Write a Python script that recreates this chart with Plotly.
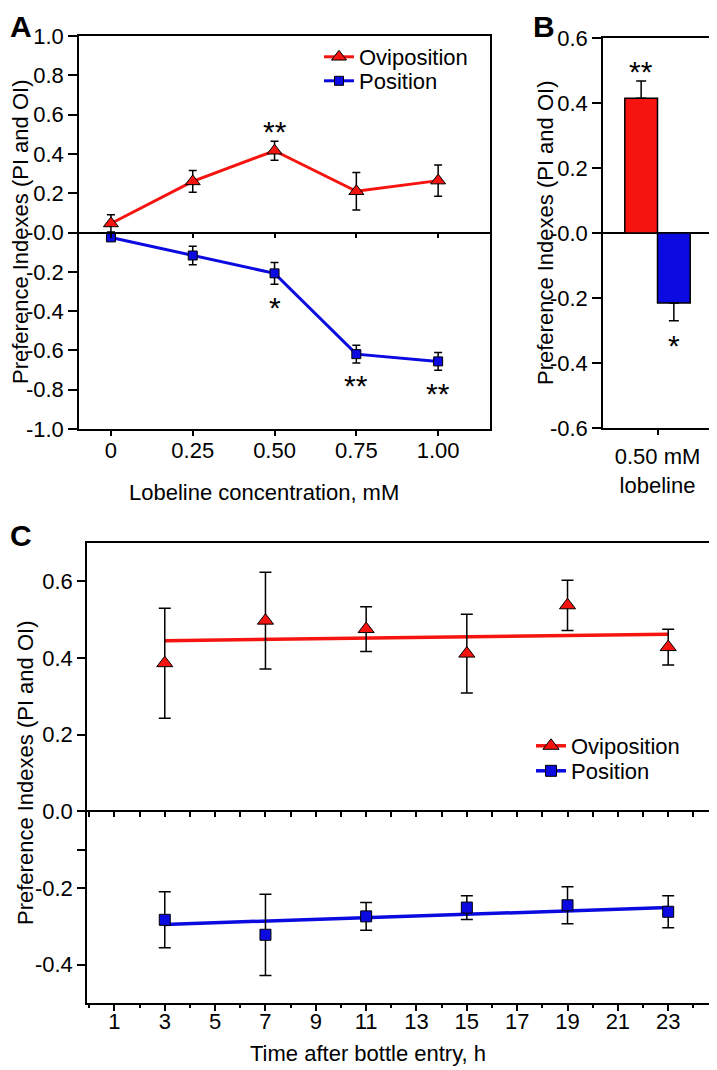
import plotly.graph_objects as go

# ---- data ----
# panel A: dose response
conc = [0, 0.25, 0.50, 0.75, 1.00]
conc_labels = ["0", "0.25", "0.50", "0.75", "1.00"]
ovi_A = [0.046, 0.260, 0.416, 0.210, 0.264]
ovi_A_err = [0.044, 0.055, 0.048, 0.095, 0.080]
pos_A = [-0.025, -0.117, -0.208, -0.619, -0.656]
pos_A_err = [0.012, 0.047, 0.055, 0.045, 0.045]
sig_ovi_A = ["", "", "**", "", ""]
sig_pos_A = ["", "", "*", "**", "**"]
yticks_A = [-1.0, -0.8, -0.6, -0.4, -0.2, 0.0, 0.2, 0.4, 0.6, 0.8, 1.0]
ylabels_A = ["-1.0", "-0.8", "-0.6", "-0.4", "-0.2", "-0.0", "0.2", "0.4", "0.6", "0.8", "1.0"]

# panel B: 0.50 mM lobeline
cat_B = ["0.50 mM<br>lobeline"]
ovi_B = [0.415]
ovi_B_err = [0.053]
pos_B = [-0.215]
pos_B_err = [0.055]
sig_B = ["**", "*"]
yticks_B = [-0.6, -0.4, -0.2, 0.0, 0.2, 0.4, 0.6]
ylabels_B = ["-0.6", "-0.4", "-0.2", "-0.0", "0.2", "0.4", "0.6"]

# panel C: time course
hours = [3, 7, 11, 15, 19, 23]
ovi_C = [0.3865, 0.4975, 0.4755, 0.4115, 0.5375, 0.4285]
ovi_C_err = [0.1435, 0.1265, 0.0585, 0.1025, 0.0655, 0.0465]
pos_C = [-0.283, -0.322, -0.274, -0.251, -0.245, -0.262]
pos_C_err = [0.073, 0.106, 0.036, 0.031, 0.048, 0.042]
fit_x = [3, 23]
ovi_fit = [0.445, 0.462]
pos_fit = [-0.295, -0.251]
xticks_C = [1, 3, 5, 7, 9, 11, 13, 15, 17, 19, 21, 23]
yticks_C = [-0.4, -0.2, -0.1, 0.0, 0.2, 0.4, 0.6]
ylabels_C = ["-0.4", "-0.2", "", "0.0", "0.2", "0.4", "0.6"]

RED = "rgb(245,20,15)"
BLUE = "rgb(10,10,225)"
FONT = "Liberation Sans, Arial, Helvetica, sans-serif"
PAGE = 8  # default body margin of the page
W, H = 717 - PAGE, 1070 - PAGE


def px_x(p):
    return (p - PAGE) / W


def px_y(p):
    return 1 - (p - PAGE) / H


domA_x = [px_x(79), px_x(490)]
domA_y = [px_y(429), px_y(36)]
domB_x = [px_x(603), px_x(712)]
domB_y = [px_y(428), px_y(38)]
domC_x = [px_x(87), px_x(712)]
domC_y = [px_y(1003), px_y(543)]
rangeA_y = [-1, 1]
rangeC_y = [-0.5, 0.7]
zeroA = domA_y[0] + (0 - rangeA_y[0]) / (rangeA_y[1] - rangeA_y[0]) * (domA_y[1] - domA_y[0])
zeroC = domC_y[0] + (0 - rangeC_y[0]) / (rangeC_y[1] - rangeC_y[0]) * (domC_y[1] - domC_y[0])

err_style = dict(type="data", color="black", thickness=1.5)
tri = dict(symbol="triangle-up", color=RED, line=dict(color="black", width=1))
sq = dict(symbol="square", color=BLUE, line=dict(color="black", width=1))

fig = go.Figure()

# ---- A ----
fig.add_trace(go.Scatter(
    x=conc, y=pos_A, name="Position", mode="lines+markers",
    xaxis="x", yaxis="y", legend="legend3", cliponaxis=False,
    line=dict(color=BLUE, width=3), marker=dict(sq, size=9),
    error_y=dict(array=pos_A_err, width=4, **err_style)))
fig.add_trace(go.Scatter(
    x=conc, y=ovi_A, name="Oviposition", mode="lines+markers",
    xaxis="x4", yaxis="y", legend="legend", cliponaxis=False,
    line=dict(color=RED, width=3), marker=dict(tri, size=13),
    error_y=dict(array=ovi_A_err, width=4, **err_style)))

# ---- B ----
fig.add_trace(go.Bar(
    x=cat_B, y=ovi_B, name="Oviposition", xaxis="x2", yaxis="y2", showlegend=False,
    marker=dict(color=RED, line=dict(color="black", width=1.5)),
    error_y=dict(array=ovi_B_err, arrayminus=[0], symmetric=False, width=5, **err_style)))
fig.add_trace(go.Bar(
    x=cat_B, y=pos_B, name="Position", xaxis="x2", yaxis="y2", showlegend=False,
    marker=dict(color=BLUE, line=dict(color="black", width=1.5)),
    error_y=dict(array=[0], arrayminus=pos_B_err, symmetric=False, width=5, **err_style)))

# ---- C ----
fig.add_trace(go.Scatter(
    x=fit_x, y=ovi_fit, mode="lines", xaxis="x5", yaxis="y3", showlegend=False,
    line=dict(color=RED, width=3.5)))
fig.add_trace(go.Scatter(
    x=fit_x, y=pos_fit, mode="lines", xaxis="x3", yaxis="y3", showlegend=False,
    line=dict(color=BLUE, width=3.5)))
fig.add_trace(go.Scatter(
    x=hours, y=ovi_C, mode="markers", xaxis="x5", yaxis="y3", showlegend=False,
    cliponaxis=False, marker=dict(tri, size=14),
    error_y=dict(array=ovi_C_err, width=6, **err_style)))
fig.add_trace(go.Scatter(
    x=hours, y=pos_C, mode="markers", xaxis="x3", yaxis="y3", showlegend=False,
    cliponaxis=False, marker=dict(sq, size=11),
    error_y=dict(array=pos_C_err, width=6, **err_style)))
# legend entries for C
fig.add_trace(go.Scatter(
    x=[None], y=[None], name="Oviposition", mode="lines+markers", xaxis="x3", yaxis="y3",
    legend="legend2", line=dict(color=RED, width=3.5), marker=dict(tri, size=14)))
fig.add_trace(go.Scatter(
    x=[None], y=[None], name="Position", mode="lines+markers", xaxis="x3", yaxis="y3",
    legend="legend4", line=dict(color=BLUE, width=3.5), marker=dict(sq, size=11)))

axis_base = dict(showline=True, linecolor="black", linewidth=1.5, showgrid=False,
                 zeroline=False, ticks="outside", tickwidth=1.5, tickcolor="black",
                 automargin=False,
                 tickfont=dict(size=22, color="black", family=FONT))


def leg(xp, yp):
    return dict(x=px_x(xp), y=px_y(yp), xanchor="left", yanchor="top",
                bgcolor="rgba(0,0,0,0)", itemwidth=30, font=dict(size=22))


fig.update_layout(
    width=W, height=H, margin=dict(l=0, r=0, t=0, b=0, autoexpand=False),
    paper_bgcolor="white", plot_bgcolor="white",
    font=dict(family=FONT, size=22, color="black"),
    barmode="group", bargap=0.4,
    xaxis=dict(axis_base, domain=domA_x, anchor="y", range=[-0.0976, 1.1585],
               tickmode="array", tickvals=conc, ticktext=conc_labels, ticklen=5, mirror=True,
               ticklabelstandoff=-4),
    yaxis=dict(axis_base, domain=domA_y, anchor="x", range=rangeA_y,
               tickmode="array", tickvals=yticks_A, ticktext=ylabels_A, ticklen=9, mirror=True),
    xaxis4=dict(axis_base, overlaying="x", anchor="free", position=zeroA,
                range=[-0.0976, 1.1585], tickmode="array", tickvals=conc, ticklen=5,
                showticklabels=False),
    xaxis2=dict(axis_base, domain=domB_x, anchor="y2", type="category", range=[-0.5, 0.5],
                ticklen=5, mirror=True, ticklabelstandoff=3),
    yaxis2=dict(axis_base, domain=domB_y, anchor="x2", range=[-0.6, 0.6],
                tickmode="array", tickvals=yticks_B, ticktext=ylabels_B, ticklen=9, mirror=True,
                zeroline=True, zerolinecolor="black", zerolinewidth=1.5),
    xaxis3=dict(axis_base, domain=domC_x, anchor="y3", range=[-0.09, 24.74],
                tickmode="array", tickvals=xticks_C, ticklen=6, mirror=True,
                ticklabelstandoff=-8,
                minor=dict(tickmode="array", tickvals=list(range(0, 25, 2)), ticks="outside",
                           ticklen=3, tickwidth=1.5, tickcolor="black")),
    xaxis5=dict(axis_base, overlaying="x3", anchor="free", position=zeroC,
                range=[-0.09, 24.74], tick0=0, dtick=1, ticklen=5, showticklabels=False),
    yaxis3=dict(axis_base, domain=domC_y, anchor="x3", range=rangeC_y,
                tickmode="array", tickvals=yticks_C, ticktext=ylabels_C, ticklen=8, mirror=True),
    legend=leg(319, 36),
    legend3=leg(319, 60),
    legend2=leg(531, 725),
    legend4=leg(531, 750),
)

ann = []
# panel letters
for letter, lx, ly in [("A", 8, 8), ("B", 531, 8), ("C", 8, 517)]:
    ann.append(dict(text="<b>%s</b>" % letter, x=px_x(lx), y=px_y(ly), xref="paper", yref="paper",
                    xanchor="left", yanchor="top", showarrow=False,
                    font=dict(size=30, family=FONT)))
# axis titles
ytitle = "Preference Indexes (PI and OI)"
for tx, ty in [(21, 232), (545, 233), (25, 773)]:
    ann.append(dict(text=ytitle, x=px_x(tx), y=px_y(ty), xref="paper", yref="paper",
                    textangle=-90, xanchor="center", yanchor="middle", showarrow=False,
                    font=dict(size=22)))
ann.append(dict(text="Lobeline concentration, mM", x=px_x(264), y=px_y(492), xref="paper",
                yref="paper", xanchor="center", yanchor="middle", showarrow=False,
                font=dict(size=22)))
ann.append(dict(text="Time after bottle entry, h", x=px_x(368), y=px_y(1053), xref="paper",
                yref="paper", xanchor="center", yanchor="middle", showarrow=False,
                font=dict(size=22)))
# significance stars
for xv, v, e, s in zip(conc, ovi_A, ovi_A_err, sig_ovi_A):
    if s:
        ann.append(dict(text=s, x=xv, y=v + e, xref="x", yref="y", yanchor="middle",
                        yshift=10, showarrow=False, font=dict(size=30)))
for xv, v, e, s in zip(conc, pos_A, pos_A_err, sig_pos_A):
    if s:
        ann.append(dict(text=s, x=xv, y=v - e, xref="x", yref="y", yanchor="middle",
                        yshift=-23, showarrow=False, font=dict(size=30)))
ann.append(dict(text=sig_B[0], x=-0.15, y=ovi_B[0] + ovi_B_err[0], xref="x2", yref="y2",
                yanchor="middle", yshift=9, showarrow=False, font=dict(size=30)))
ann.append(dict(text=sig_B[1], x=0.15, y=pos_B[0] - pos_B_err[0], xref="x2", yref="y2",
                yanchor="middle", yshift=-25, showarrow=False, font=dict(size=30)))
fig.update_layout(annotations=ann)

fig.write_html("out.html")
